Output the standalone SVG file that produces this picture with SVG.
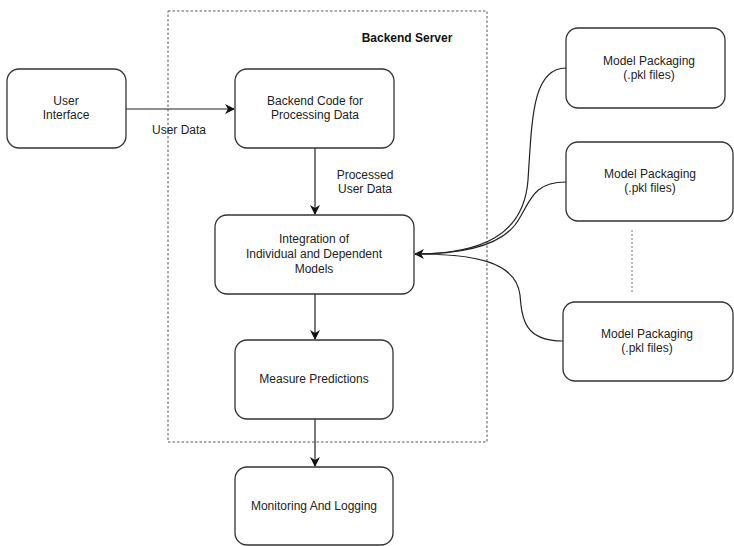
<svg xmlns="http://www.w3.org/2000/svg" width="734" height="546" viewBox="0 0 734 546">
  <style>
    .box { fill: #ffffff; stroke: #333333; stroke-width: 1.3; }
    .lbl { font-family: "Liberation Sans", Arial, sans-serif; font-size: 12px; fill: #222222; text-anchor: middle; }
    .edge { fill: none; stroke: #222222; stroke-width: 1.2; }
    .frame { fill: none; stroke: #555555; stroke-width: 1; stroke-dasharray: 2.5 2; }
  </style>
  <defs>
    <marker id="arrow" viewBox="0 0 10 10" refX="9" refY="5" markerWidth="10" markerHeight="10" markerUnits="userSpaceOnUse" orient="auto">
      <path d="M0,0 L10,5 L0,10 L3,5 Z" fill="#111111"/>
    </marker>
  </defs>

  <rect width="734" height="546" fill="#ffffff"/>

  <!-- Backend server boundary -->
  <g id="backend-server">
    <rect class="frame" x="168" y="11" width="319" height="431"/>
    <text x="407" y="42" font-family="'Liberation Sans', Arial, sans-serif" font-size="12px" font-weight="bold" fill="#111111" text-anchor="middle">Backend Server</text>
  </g>

  <!-- Connectors -->
  <g id="connectors">
    <path class="edge" d="M126,109 L234,109" marker-end="url(#arrow)"/>
    <text class="lbl" x="179" y="134">User Data</text>
    <path class="edge" d="M315,148 L315,214" marker-end="url(#arrow)"/>
    <text class="lbl" x="365" y="179">Processed</text>
    <text class="lbl" x="365" y="193">User Data</text>
    <path class="edge" d="M315,294 L315,339" marker-end="url(#arrow)"/>
    <path class="edge" d="M315,419 L315,466" marker-end="url(#arrow)"/>
    <path class="edge" d="M566,68 C532,68 532,120 528,180 C524,236 480,254 415,254" marker-end="url(#arrow)"/>
    <path class="edge" d="M566,182 C530,182 530,205 515,225 C495,250 450,254 415,254"/>
    <path class="edge" d="M563,341 C525,341 522,320 520,295 C516,260 470,254 415,254"/>
    <line x1="632" y1="230" x2="632" y2="292" stroke="#777777" stroke-width="1" stroke-dasharray="2 2"/>
  </g>

  <g id="user-interface">
    <rect class="box" x="7" y="69" width="119" height="79" rx="12"/>
    <text class="lbl" x="66" y="105">User</text>
    <text class="lbl" x="66" y="119">Interface</text>
  </g>

  <g id="backend-code">
    <rect class="box" x="235" y="69" width="159" height="79" rx="12"/>
    <text class="lbl" x="315" y="105">Backend Code for</text>
    <text class="lbl" x="315" y="119">Processing Data</text>
  </g>

  <g id="integration">
    <rect class="box" x="215" y="215" width="199" height="79" rx="12"/>
    <text class="lbl" x="314" y="243">Integration of</text>
    <text class="lbl" x="314" y="258">Individual and Dependent</text>
    <text class="lbl" x="314" y="273">Models</text>
  </g>

  <g id="measure-predictions">
    <rect class="box" x="235" y="340" width="158" height="79" rx="12"/>
    <text class="lbl" x="314" y="383">Measure Predictions</text>
  </g>

  <g id="monitoring">
    <rect class="box" x="235" y="467" width="158" height="78" rx="12"/>
    <text class="lbl" x="314" y="510">Monitoring And Logging</text>
  </g>

  <g id="model-packaging-1">
    <rect class="box" x="566" y="28" width="159" height="80" rx="12"/>
    <text class="lbl" x="649" y="65">Model Packaging</text>
    <text class="lbl" x="649" y="79">(.pkl files)</text>
  </g>

  <g id="model-packaging-2">
    <rect class="box" x="566" y="142" width="167" height="79" rx="12"/>
    <text class="lbl" x="650" y="178">Model Packaging</text>
    <text class="lbl" x="650" y="192">(.pkl files)</text>
  </g>

  <g id="model-packaging-3">
    <rect class="box" x="563" y="302" width="170" height="79" rx="12"/>
    <text class="lbl" x="647" y="338">Model Packaging</text>
    <text class="lbl" x="647" y="352">(.pkl files)</text>
  </g>
</svg>
